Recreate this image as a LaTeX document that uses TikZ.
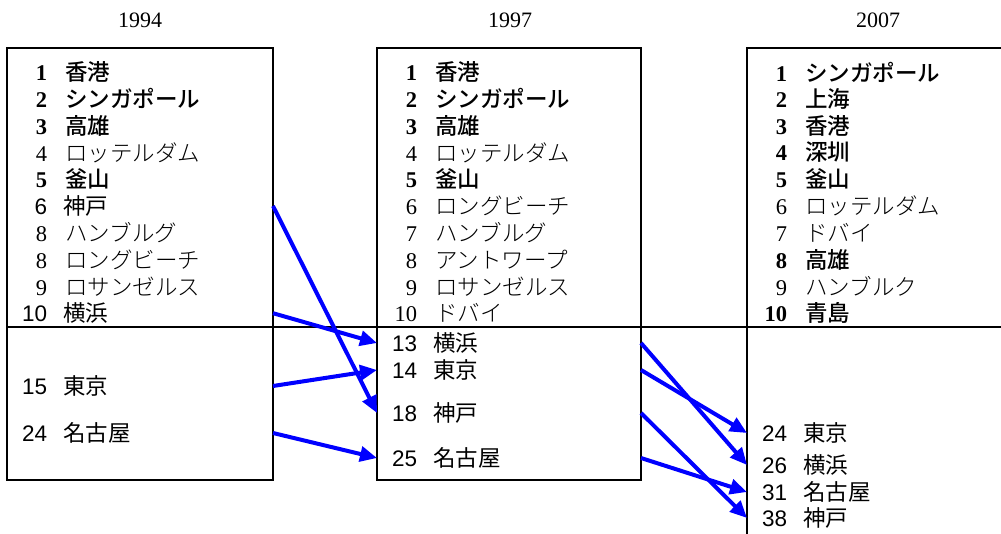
\documentclass[tikz,border=0pt]{standalone}
\usepackage{fontspec}
\setmainfont{Liberation Serif}
\setsansfont{Liberation Sans}
\newfontfamily\jp{Noto Sans CJK JP}
\IfFontExistsTF{Noto Sans CJK JP Light}{\newfontfamily\jpl{Noto Sans CJK JP Light}}{\newfontfamily\jpl{Noto Sans CJK JP}}
\IfFontExistsTF{Noto Sans CJK JP Medium}{\newfontfamily\jpb{Noto Sans CJK JP Medium}}{\newfontfamily\jpb{Noto Sans CJK JP}}
\usetikzlibrary{arrows.meta}
\definecolor{arrblue}{RGB}{0,0,255}
\newcommand{\entB}[2]{\makebox[30pt][r]{\rmfamily\bfseries #1}\hspace{18pt}{\jpb #2}}
\newcommand{\entL}[2]{\makebox[30pt][r]{\rmfamily #1}\hspace{18pt}{\jpl #2}}
\newcommand{\entS}[2]{\makebox[30pt][r]{\sffamily #1}\hspace{16pt}{\jp #2}}
\tikzset{
  boxframe/.style={draw=black, line width=2pt, outer sep=0pt, inner sep=0pt},
  ent/.style={anchor=west, inner sep=0pt, font=\fontsize{22.5pt}{26pt}\selectfont},
  yearlbl/.style={inner sep=0pt, font=\rmfamily\fontsize{22pt}{26pt}\selectfont},
  arr/.style={draw=arrblue, line width=4pt, -{Triangle[length=17pt,width=15pt]}},
  divline/.style={draw=black, line width=1.5pt}
}
\begin{document}
\begin{tikzpicture}[x=1pt,y=-1pt]
\useasboundingbox (0,0) rectangle (1001,534);
% boxes
\node[boxframe, minimum width=266pt, minimum height=432pt] (b1) at (140,264) {};
\node[boxframe, minimum width=264pt, minimum height=432pt] (b2) at (509,264) {};
\node[boxframe, minimum width=280pt, minimum height=520pt] (b3) at (887,308) {};
% divider line
\coordinate (hl) at (1005,327);
\draw[divline] (b1.west |- hl) -- (hl);
% years
\node[yearlbl] (y1) at (140,20) {1994};
\node[yearlbl] (y2) at (510,20) {1997};
\node[yearlbl] (y3) at (878,20) {2007};
% 1994
\node[ent] (a1) at (17,72) {\entB{1}{香港}};
\node[ent] (a2) at (17,98.8) {\entB{2}{シンガポール}};
\node[ent] (a3) at (17,125.6) {\entB{3}{高雄}};
\node[ent] (a4) at (17,152.4) {\entL{4}{ロッテルダム}};
\node[ent] (a5) at (17,179.2) {\entB{5}{釜山}};
\node[ent] (a6) at (17,206) {\entS{6}{神戸}};
\node[ent] (a7) at (17,232.8) {\entL{8}{ハンブルグ}};
\node[ent] (a8) at (17,259.6) {\entL{8}{ロングビーチ}};
\node[ent] (a9) at (17,286.4) {\entL{9}{ロサンゼルス}};
\node[ent] (a10) at (17,313.2) {\entS{10}{横浜}};
\node[ent] (a15) at (17,386) {\entS{15}{東京}};
\node[ent] (a24) at (17,433) {\entS{24}{名古屋}};
% 1997
\node[ent] (c1) at (387,72) {\entB{1}{香港}};
\node[ent] (c2) at (387,98.8) {\entB{2}{シンガポール}};
\node[ent] (c3) at (387,125.6) {\entB{3}{高雄}};
\node[ent] (c4) at (387,152.4) {\entL{4}{ロッテルダム}};
\node[ent] (c5) at (387,179.2) {\entB{5}{釜山}};
\node[ent] (c6) at (387,206) {\entL{6}{ロングビーチ}};
\node[ent] (c7) at (387,232.8) {\entL{7}{ハンブルグ}};
\node[ent] (c8) at (387,259.6) {\entL{8}{アントワープ}};
\node[ent] (c9) at (387,286.4) {\entL{9}{ロサンゼルス}};
\node[ent] (c10) at (387,313.2) {\entL{10}{ドバイ}};
\node[ent] (c13) at (387,343) {\entS{13}{横浜}};
\node[ent] (c14) at (387,370) {\entS{14}{東京}};
\node[ent] (c18) at (387,413) {\entS{18}{神戸}};
\node[ent] (c25) at (387,458) {\entS{25}{名古屋}};
% 2007
\node[ent] (d1) at (757,72) {\entB{1}{シンガポール}};
\node[ent] (d2) at (757,98.8) {\entB{2}{上海}};
\node[ent] (d3) at (757,125.6) {\entB{3}{香港}};
\node[ent] (d4) at (757,152.4) {\entB{4}{深圳}};
\node[ent] (d5) at (757,179.2) {\entB{5}{釜山}};
\node[ent] (d6) at (757,206) {\entL{6}{ロッテルダム}};
\node[ent] (d7) at (757,232.8) {\entL{7}{ドバイ}};
\node[ent] (d8) at (757,259.6) {\entB{8}{高雄}};
\node[ent] (d9) at (757,286.4) {\entL{9}{ハンブルク}};
\node[ent] (d10) at (757,313.2) {\entB{10}{青島}};
\node[ent] (d24) at (757,433) {\entS{24}{東京}};
\node[ent] (d26) at (757,465) {\entS{26}{横浜}};
\node[ent] (d31) at (757,492) {\entS{31}{名古屋}};
\node[ent] (d38) at (757,518) {\entS{38}{神戸}};
% arrows 1994 -> 1997
\draw[arr] (b1.east |- a6) -- (b2.west |- c18);
\draw[arr] (b1.east |- a10) -- (b2.west |- c13);
\draw[arr] (b1.east |- a15) -- (b2.west |- c14);
\draw[arr] (b1.east |- a24) -- (b2.west |- c25);
% arrows 1997 -> 2007
\draw[arr] (b2.east |- c13) -- (b3.west |- d26);
\draw[arr] (b2.east |- c14) -- (b3.west |- d24);
\draw[arr] (b2.east |- c18) -- (b3.west |- d38);
\draw[arr] (b2.east |- c25) -- (b3.west |- d31);
\end{tikzpicture}
\end{document}
